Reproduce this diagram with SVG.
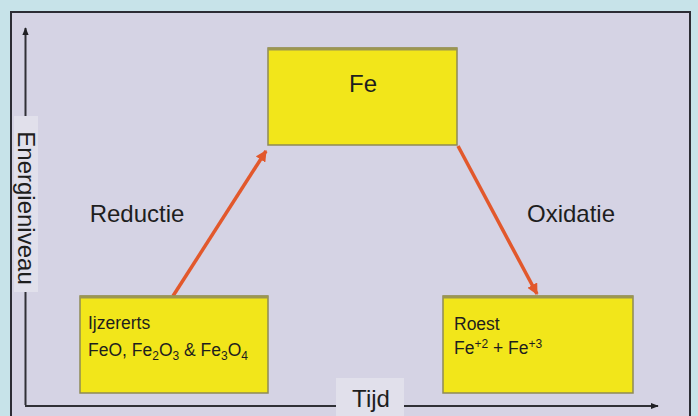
<svg xmlns="http://www.w3.org/2000/svg" width="698" height="416" viewBox="0 0 698 416">
<defs>
<style>
text{font-family:"Liberation Sans",Arial,sans-serif;fill:#1e1e1e}
.big{font-size:24px}
.small{font-size:17.5px}
.box{fill:#f2e61a;stroke:#8e8a55;stroke-width:1.5}
.boxtop{stroke:#9c9650;stroke-width:3}
.axis{stroke:#303036;stroke-width:2;fill:none}
.conn{stroke:#e2582c;stroke-width:3.5;fill:none}
.lbl{fill:#e1e0eb}
</style>
<marker id="ah" viewBox="0 0 10 10" refX="9" refY="5" markerWidth="3.2" markerHeight="3.2" orient="auto" markerUnits="strokeWidth">
<path d="M0,0 L10,5 L0,10 z" fill="#e2582c"/>
</marker>
<marker id="axh" viewBox="0 0 10 10" refX="9" refY="5" markerWidth="4" markerHeight="4" orient="auto" markerUnits="strokeWidth">
<path d="M0,1 L10,5 L0,9 z" fill="#202024"/>
</marker>
</defs>
<rect x="0" y="0" width="698" height="416" fill="#c7e3e9"/>
<rect x="11" y="12" width="679" height="412" fill="#d5d3e4" stroke="#2c2c34" stroke-width="2"/>

<g id="axes">
<line class="axis" x1="25.5" y1="405" x2="25.5" y2="28" marker-end="url(#axh)"/>
<line class="axis" x1="25" y1="406" x2="658" y2="406" marker-end="url(#axh)"/>
<rect class="lbl" x="14" y="116" width="24" height="176"/>
<text class="big" text-anchor="middle" transform="translate(18,208) rotate(90)">Energieniveau</text>
<rect class="lbl" x="336" y="378" width="68" height="38"/>
<text class="big" x="371" y="407" text-anchor="middle">Tijd</text>
</g>

<g id="connectors">
<line class="conn" x1="173" y1="296" x2="266" y2="151" marker-end="url(#ah)"/>
<line class="conn" x1="458" y1="146" x2="537" y2="294" marker-end="url(#ah)"/>
<text class="big" x="137" y="222" text-anchor="middle">Reductie</text>
<text class="big" x="571" y="222" text-anchor="middle">Oxidatie</text>
</g>

<g id="node-fe">
<rect class="box" x="268" y="48" width="189" height="97"/>
<line class="boxtop" x1="268" y1="49" x2="457" y2="49"/>
<text class="big" x="363" y="92" text-anchor="middle">Fe</text>
</g>

<g id="node-ijzererts">
<rect class="box" x="80" y="296" width="188" height="97"/>
<line class="boxtop" x1="80" y1="297" x2="268" y2="297"/>
<text class="small" x="88" y="329">Ijzererts</text>
<text class="small" x="88" y="356">FeO, Fe<tspan font-size="12" dy="4">2</tspan><tspan dy="-4">O</tspan><tspan font-size="12" dy="4">3</tspan><tspan dy="-4"> &amp; Fe</tspan><tspan font-size="12" dy="4">3</tspan><tspan dy="-4">O</tspan><tspan font-size="12" dy="4">4</tspan></text>
</g>

<g id="node-roest">
<rect class="box" x="443" y="296" width="190" height="97"/>
<line class="boxtop" x1="443" y1="297" x2="633" y2="297"/>
<text class="small" x="454" y="330">Roest</text>
<text class="small" x="454" y="354">Fe<tspan font-size="12" dy="-6">+2</tspan><tspan dy="6"> + Fe</tspan><tspan font-size="12" dy="-6">+3</tspan></text>
</g>
</svg>
